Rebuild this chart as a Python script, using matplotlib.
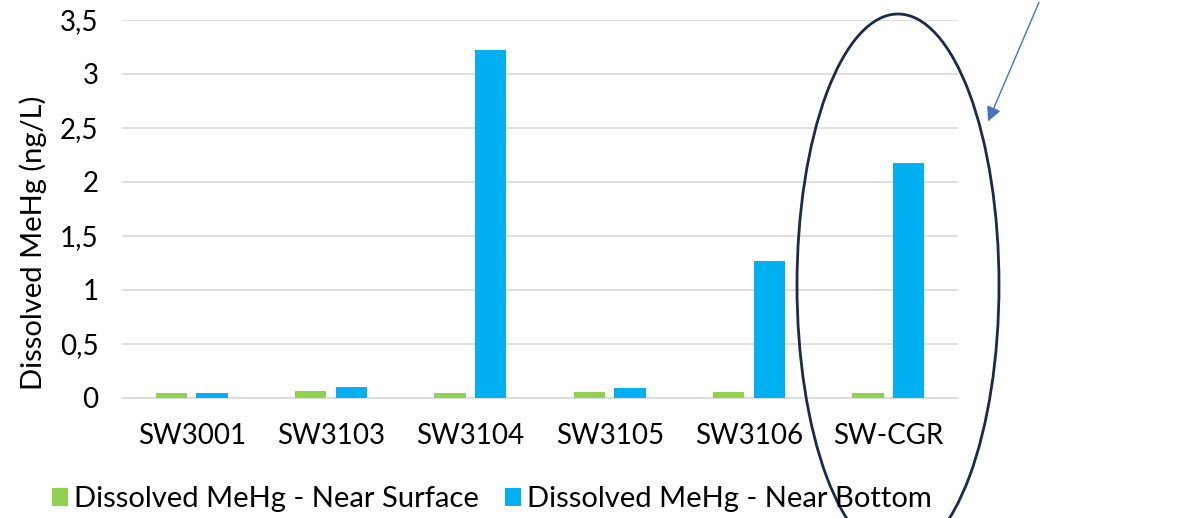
import matplotlib
matplotlib.use("Agg")
import matplotlib.pyplot as plt
from matplotlib.patches import Ellipse, FancyArrowPatch
from matplotlib.ticker import FuncFormatter, MultipleLocator
import numpy as np

plt.rcParams['font.family'] = ['Lato', 'DejaVu Sans']

stations = ['SW3001', 'SW3103', 'SW3104', 'SW3105', 'SW3106', 'SW-CGR']
near_surface = [0.05, 0.065, 0.05, 0.06, 0.06, 0.05]
near_bottom = [0.05, 0.10, 3.22, 0.09, 1.27, 2.18]

green = '#92D050'
blue = '#00B0F0'

fig = plt.figure(figsize=(11.88, 5.18), dpi=100)
ax = fig.add_axes([122 / 1188, 1 - 398 / 518, (958 - 122) / 1188, 378 / 518])

x = np.arange(len(stations))
w = 0.225
ax.bar(x - 0.145, near_surface, w, color=green, label='Dissolved MeHg - Near Surface', zorder=3)
ax.bar(x + 0.145, near_bottom, w, color=blue, label='Dissolved MeHg - Near Bottom', zorder=3)

ax.set_xlim(-0.5, len(stations) - 0.5)
ax.set_ylim(0, 3.5)
ax.yaxis.set_major_locator(MultipleLocator(0.5))
ax.yaxis.set_major_formatter(FuncFormatter(lambda v, p: f'{v:g}'.replace('.', ',')))
ax.set_xticks(x)
ax.set_xticklabels(stations)
ax.grid(axis='y', color='#D9D9D9', linewidth=1.2, zorder=0)
for s in ['top', 'right', 'left']:
    ax.spines[s].set_visible(False)
ax.spines['bottom'].set_color('#D9D9D9')
ax.spines['bottom'].set_linewidth(1.2)
ax.tick_params(length=0, labelsize=20, colors='black')
ax.tick_params(axis='x', pad=18)
ax.tick_params(axis='y', pad=17)
ax.set_ylabel('Dissolved MeHg (ng/L)', fontsize=21)
ax.yaxis.set_label_coords(-0.09, 0.41)

fig.legend(loc='lower left', bbox_to_anchor=(26 / 1188, -0.04), ncol=2, frameon=False,
           fontsize=21, handlelength=0.55, handleheight=0.55, handletextpad=0.2,
           columnspacing=0.9)

# highlight around the last station
fig.add_artist(Ellipse((898 / 1188, 1 - 285 / 518), 202 / 1188, 542 / 518,
                       transform=fig.transFigure, fill=False, edgecolor='#1B2A47',
                       linewidth=2, clip_on=False))
fig.add_artist(FancyArrowPatch((1040 / 1188, 1.0), (987 / 1188, 1 - 124 / 518),
                               transform=fig.transFigure, arrowstyle='-|>',
                               mutation_scale=22, color='#4472C4', linewidth=1))

fig.savefig('out.png', dpi=100)
